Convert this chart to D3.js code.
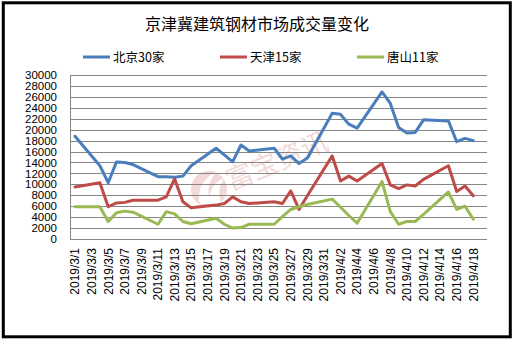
<!DOCTYPE html>
<html>
<head>
<meta charset="utf-8">
<script src="https://cdn.jsdelivr.net/npm/d3@7/dist/d3.min.js"></script>
<style>
  html, body { margin: 0; padding: 0; background: #fff; }
  svg { display: block; }
  text { font-family: "Liberation Sans", Arial, sans-serif; }
  .cjk { font-family: "Noto Sans CJK SC", "Noto Sans", sans-serif; }
</style>
</head>
<body>
<svg id="chart" width="516" height="346"></svg>
<script>
// Trading dates (2019) and daily turnover (tonnes) for each market
const dates = [
  "3/1","3/4","3/5","3/6","3/7","3/8","3/11","3/12","3/13","3/14","3/15",
  "3/18","3/19","3/20","3/21","3/22","3/25","3/26","3/27","3/28","3/29",
  "4/1","4/2","4/3","4/4","4/7","4/8","4/9","4/10","4/11","4/12",
  "4/15","4/16","4/17","4/18"
];
const beijing = [
  18800,13400,10300,14100,14000,13600,11400,11400,11300,11500,13400,
  16600,15400,14100,17200,16100,16600,14600,15200,13800,14800,
  23000,22800,21000,20300,26900,24800,20400,19400,19500,21800,
  21600,17800,18400,18000
];
const tianjin = [
  9500,10300,5900,6600,6700,7100,7100,7700,11000,6800,5700,
  6200,6500,7700,6800,6500,6800,6500,8800,5400,7900,
  15200,10600,11500,10600,13800,9900,9200,9900,9700,10900,
  13400,8700,9700,7900
];
const tangshan = [
  5900,5900,3200,4800,5100,4900,2700,5000,4600,3200,2800,
  3800,2700,2000,2100,2700,2700,4100,5400,5900,6300,
  7300,5800,4300,2900,10500,5000,2700,3200,3200,4500,
  8600,5400,6000,3600
];
const seriesNames = ["北京30家", "天津15家", "唐山11家"];
const seriesColors = ["#4a7ebb", "#be4b48", "#98b954"];
const yTicks = d3.range(0, 30001, 2000);
const title = "京津冀建筑钢材市场成交量变化";

const parse = s => { const [m, d] = s.split("/").map(Number); return new Date(2019, m - 1, d); };
const days = dates.map(parse);
const tickDates = d3.timeDay.range(new Date(2019, 2, 1), new Date(2019, 3, 19), 2);

const svg = d3.select("#chart");
const plot = { left: 70, right: 487, top: 75, bottom: 239 };

const x = d3.scaleTime()
  .domain([new Date(2019, 2, 1), new Date(2019, 3, 18)])
  .range([75, 473.3]);
const y = d3.scaleLinear().domain([0, 30000]).range([plot.bottom, plot.top]);

// Outer frame
svg.append("rect")
  .attr("x", 3.3).attr("y", 2.8).attr("width", 507).attr("height", 334)
  .attr("fill", "#fff").attr("stroke", "#000").attr("stroke-width", 3);

// Title
svg.append("text").attr("class", "cjk")
  .attr("x", 257).attr("y", 30)
  .attr("text-anchor", "middle")
  .attr("font-size", 16).attr("fill", "#000")
  .text(title);

// Legend
const legendX = [83, 220, 357];
seriesNames.forEach((name, i) => {
  const g = svg.append("g").attr("transform", `translate(${legendX[i]},57)`);
  g.append("line").attr("x1", 0).attr("x2", 27).attr("y1", 0).attr("y2", 0)
    .attr("stroke", seriesColors[i]).attr("stroke-width", 3);
  g.append("text").attr("class", "cjk")
    .attr("x", 30).attr("y", 0).attr("dy", "0.36em")
    .attr("font-size", 12.5).attr("fill", "#000")
    .text(name);
});

// Watermark
const wm = svg.append("g").attr("opacity", 0.22);
wm.append("circle").attr("cx", 209).attr("cy", 189).attr("r", 18).attr("fill", "#c9584f");
wm.append("path")
  .attr("d", "M200,204 C196,190 204,178 216,172 C208,182 206,192 212,204 Z M210,204 C208,192 214,182 224,178 C218,188 218,196 222,204 Z")
  .attr("fill", "#fff");
wm.append("text").attr("class", "cjk")
  .attr("transform", "translate(277,161) rotate(-23)")
  .attr("text-anchor", "middle").attr("dy", "0.35em")
  .attr("font-size", 27).attr("fill", "#c9584f")
  .text("富宝资讯");

// Gridlines and y-axis labels
const yAxis = svg.append("g");
yAxis.selectAll("line.grid").data(yTicks).join("line")
  .attr("class", "grid")
  .attr("x1", plot.left).attr("x2", plot.right)
  .attr("y1", d => Math.round(y(d)) + 0.5).attr("y2", d => Math.round(y(d)) + 0.5)
  .attr("stroke", "#868686").attr("stroke-width", 1);
yAxis.selectAll("text").data(yTicks).join("text")
  .attr("x", 57).attr("y", d => y(d)).attr("dy", "0.36em")
  .attr("text-anchor", "end").attr("font-size", 11.5).attr("fill", "#000")
  .text(d => d);
svg.append("line")
  .attr("x1", plot.left + 0.5).attr("x2", plot.left + 0.5)
  .attr("y1", plot.top).attr("y2", plot.bottom)
  .attr("stroke", "#868686");

// X-axis date labels, rotated
svg.append("g").selectAll("text").data(tickDates).join("text")
  .attr("transform", d => `translate(${x(d)},248) rotate(-90)`)
  .attr("text-anchor", "end").attr("dy", "0.36em")
  .attr("font-size", 12).attr("fill", "#000")
  .text(d => `2019/${d.getMonth() + 1}/${d.getDate()}`);

// Series lines
const line = d3.line().x((d, i) => x(days[i])).y(d => y(d));
[beijing, tianjin, tangshan].forEach((vals, i) => {
  svg.append("path")
    .attr("d", line(vals))
    .attr("fill", "none")
    .attr("stroke", seriesColors[i])
    .attr("stroke-width", 3)
    .attr("stroke-linejoin", "round")
    .attr("stroke-linecap", "round");
});
</script>
</body>
</html>
